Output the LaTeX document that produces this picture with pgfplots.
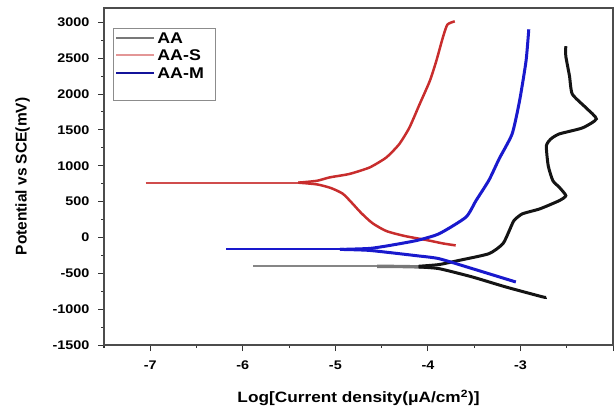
\documentclass[border=0pt]{standalone}
\usepackage{fontspec}
\setmainfont{Liberation Sans}[FakeStretch=1.15]
\newfontfamily\ylabfont{Liberation Sans}
\usepackage{pgfplots}
\pgfplotsset{compat=1.18}
\definecolor{cblack}{RGB}{20,20,20}
\definecolor{cgray}{RGB}{120,120,120}
\definecolor{cred}{RGB}{200,45,45}
\definecolor{cblue}{RGB}{25,25,205}
\newcommand{\lstrut}{\rule[-0.9pt]{0pt}{12.9pt}}
\begin{document}
\begin{tikzpicture}
\begin{axis}[
  scale only axis, width=509pt, height=337pt,
  xmin=-7.5, xmax=-2, ymin=-1500, ymax=3200,
  xtick={-7,-6,-5,-4,-3,-2}, xticklabels={-7,-6,-5,-4,-3,{}},
  minor xtick={-7.5,-6.5,-5.5,-4.5,-3.5,-2.5},
  ytick={-1500,-1000,-500,0,500,1000,1500,2000,2500,3000},
  yticklabels={-1500,-1000,-500,0,500,1000,1500,2000,2500,3000},
  minor ytick={-1250,-750,-250,250,750,1250,1750,2250,2750},
  tick align=outside, xtick pos=bottom, ytick pos=left,
  major tick length=6pt, minor tick length=3pt,
  tick style={black!80, line width=1pt},
  axis line style={black!70, line width=1.2pt},
  /pgf/number format/assume math mode=true,
  ticklabel style={font=\bfseries\fontsize{12.5}{14}\selectfont},
  xticklabel style={anchor=base, yshift=-18pt},
  yticklabel style={anchor=east, xshift=-5pt},
  xlabel={Log[Current density(μA/cm\textsuperscript{2})]},
  xlabel style={at={(axis description cs:0.5,-0.172)}, anchor=base, font=\bfseries\fontsize{15}{18}\selectfont},
  ylabel={Potential vs SCE(mV)},
  ylabel style={at={(axis description cs:-0.160,0.5)}, anchor=center, font=\ylabfont\bfseries\fontsize{15.5}{18}\selectfont},
  legend style={at={(axis description cs:0.018,0.941)}, anchor=north west, draw=black!45,
    font=\bfseries\fontsize{15.5}{18}\selectfont, inner xsep=2pt, inner ysep=1pt,
    /tikz/every even column/.append style={text width=54pt}},
  legend cell align=left,
  legend image code/.code={\draw[#1] (0pt,0pt) -- (38pt,0pt);},
]
% legend images
\addlegendimage{cgray, line width=2pt}
\addlegendentry{\lstrut AA}
\addlegendimage{cred!50, line width=2pt}
\addlegendentry{\lstrut AA-S}
\addlegendimage{cblue!75!black, line width=2pt}
\addlegendentry{\lstrut AA-M}
\addlegendimage{empty legend}
\addlegendentry{\lstrut}
% AA (black)
\addplot[cgray!90, line width=1.9pt, forget plot] coordinates {(-5.89,-403) (-4.55,-403)};
\addplot[cgray, line width=3.4pt, forget plot] coordinates {(-4.55,-403) (-4.30,-405) (-4.05,-412)};
\addplot[cblack, line width=3pt, forget plot, smooth, tension=0.35] coordinates {
(-4.10,-402) (-3.88,-378) (-3.66,-319) (-3.34,-226) (-3.19,-88) (-3.12,97) (-3.07,236) (-2.98,329)
(-2.79,399) (-2.58,514) (-2.51,583) (-2.58,699) (-2.65,792) (-2.70,1000) (-2.72,1278) (-2.67,1375)
(-2.58,1444) (-2.33,1528) (-2.18,1653) (-2.29,1806) (-2.44,2000) (-2.47,2250) (-2.51,2528) (-2.51,2667)};
\addplot[cblack, line width=3pt, forget plot, smooth, tension=0.35] coordinates {
(-4.10,-412) (-3.88,-435) (-3.52,-551) (-3.16,-690) (-2.76,-829) (-2.72,-835)};
% AA-S (red)
\addplot[cred!85, line width=1.8pt, forget plot] coordinates {(-7.05,764) (-5.35,764)};
\addplot[cred, line width=2.5pt, forget plot, smooth, tension=0.4] coordinates {
(-5.40,764) (-5.20,740) (-5.05,690) (-4.92,610) (-4.82,480) (-4.72,340) (-4.60,200) (-4.45,90) (-4.25,20) (-4.00,-40) (-3.84,-83) (-3.70,-111)};
\addplot[cred, line width=2.5pt, forget plot, smooth, tension=0.35] coordinates {
(-5.40,764) (-5.20,790) (-5.06,838) (-4.85,885) (-4.63,976) (-4.45,1115) (-4.31,1301) (-4.20,1532)
(-4.09,1857) (-3.98,2181) (-3.91,2458) (-3.84,2782) (-3.79,2968) (-3.71,3014)};
% AA-M (blue)
\addplot[cblue, line width=2pt, forget plot] coordinates {(-6.18,-167) (-4.90,-167)};
\addplot[cblue, line width=3pt, forget plot, smooth, tension=0.35] coordinates {
(-4.95,-167) (-4.63,-153) (-4.41,-111) (-4.12,-42) (-3.88,51) (-3.59,282) (-3.48,514)
(-3.34,800) (-3.23,1097) (-3.09,1444) (-3.01,1903) (-2.94,2458) (-2.91,2903)};
\addplot[cblue, line width=3pt, forget plot, smooth, tension=0.35] coordinates {
(-4.95,-167) (-4.63,-181) (-4.12,-255) (-3.88,-296) (-3.52,-435) (-3.23,-550) (-3.05,-621)};
\end{axis}
\pgfresetboundingbox
\path ([shift={(-104pt,-64pt)}]current axis.south west) rectangle ([shift={(3pt,8pt)}]current axis.north east);
\end{tikzpicture}
\end{document}
